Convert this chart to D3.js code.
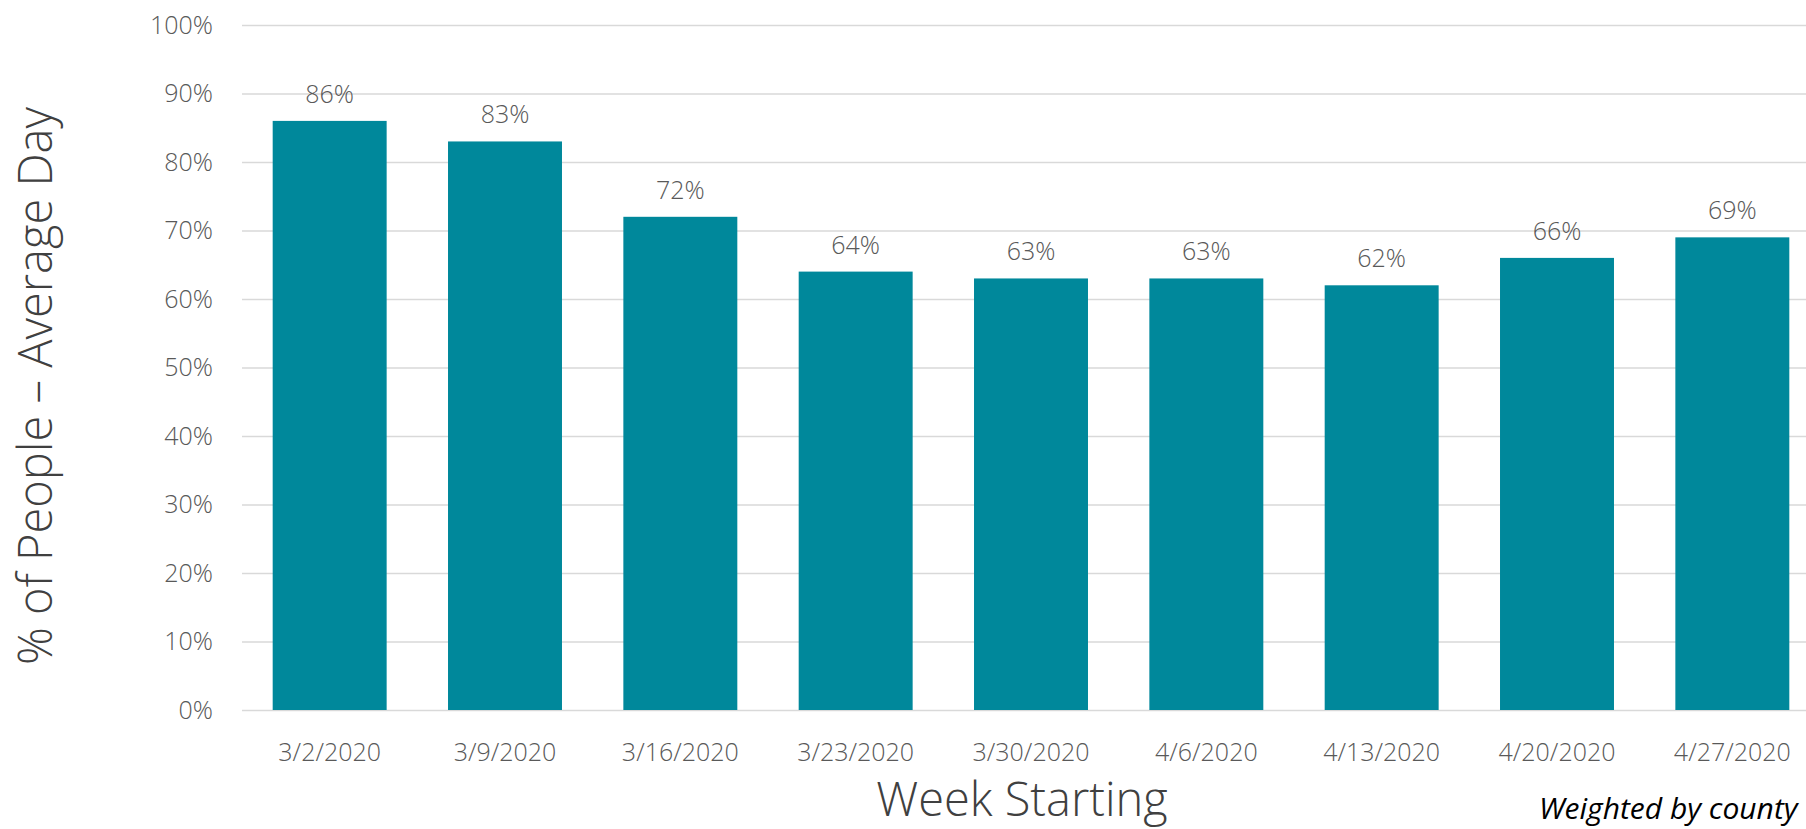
<!DOCTYPE html>
<html>
<head>
<meta charset="utf-8">
<script src="https://cdn.jsdelivr.net/npm/d3@7"></script>
<style>
  html, body { margin: 0; padding: 0; background: #fff; overflow: hidden; }
  text { font-family: "Open Sans", "Noto Sans", sans-serif; }
</style>
</head>
<body>
<script>
// weeks and share of people (average day)
const weeks = ["3/2/2020", "3/9/2020", "3/16/2020", "3/23/2020", "3/30/2020", "4/6/2020", "4/13/2020", "4/20/2020", "4/27/2020"]
const values = [0.86, 0.83, 0.72, 0.64, 0.63, 0.63, 0.62, 0.66, 0.69]
const yTicks = [0, 0.1, 0.2, 0.3, 0.4, 0.5, 0.6, 0.7, 0.8, 0.9, 1.0]

const width = 1806
const height = 829
const margin = {top: 25, right: -14, bottom: 119, left: 242}
const barColor = "#00889b"

const svg = d3.select("body").append("svg")
    .attr("width", width)
    .attr("height", height)

const x = d3.scaleBand()
    .domain(weeks)
    .range([margin.left, width - margin.right])
    .paddingInner(0.35)
    .paddingOuter(0.175)

const y = d3.scaleLinear()
    .domain([0, 1])
    .range([height - margin.bottom, margin.top])

// gridlines + y labels
const yAxis = g => g
    .attr("transform", `translate(${margin.left},0)`)
    .call(d3.axisLeft(y).tickValues(yTicks).tickFormat(d3.format(".0%")).tickSize(-(width - margin.left + 20)).tickPadding(29))
    .call(g => g.select(".domain").remove())
    .call(g => g.selectAll(".tick line").attr("stroke", "#d9d9d9").attr("stroke-width", 1.5))
    .call(g => g.selectAll(".tick text")
        .attr("fill", "#595959")
        .attr("font-size", 25)
        .attr("font-weight", 300)
        .attr("font-family", "'Open Sans', sans-serif"))

svg.append("g").call(yAxis)

svg.append("g")
        .attr("fill", barColor)
    .selectAll("rect")
    .data(values)
    .join("rect")
        .attr("x", (d, i) => x(weeks[i]))
        .attr("y", d => y(d))
        .attr("width", x.bandwidth())
        .attr("height", d => y(0) - y(d))

// value labels above bars
svg.append("g")
        .attr("fill", "#595959")
        .attr("font-size", 25)
        .attr("font-weight", 300)
        .attr("text-anchor", "middle")
    .selectAll("text")
    .data(values)
    .join("text")
        .attr("x", (d, i) => x(weeks[i]) + x.bandwidth() / 2)
        .attr("y", d => y(d) - 18)
        .text(d => d3.format(".0%")(d))

// x axis labels
const xAxis = g => g
    .attr("transform", `translate(0,${height - margin.bottom})`)
    .call(d3.axisBottom(x).tickSize(0).tickPadding(33))
    .call(g => g.select(".domain").remove())
    .call(g => g.selectAll(".tick text")
        .attr("fill", "#595959")
        .attr("font-size", 25)
        .attr("font-weight", 300)
        .attr("font-family", "'Open Sans', sans-serif"))

svg.append("g").call(xAxis)

// axis titles
svg.append("text")
    .attr("x", 1022)
    .attr("y", 816)
    .attr("text-anchor", "middle")
    .attr("fill", "#404040")
    .attr("font-size", 47)
    .attr("font-weight", 300)
    .text("Week Starting")

svg.append("text")
    .attr("transform", "translate(52,386) rotate(-90)")
    .attr("text-anchor", "middle")
    .attr("fill", "#404040")
    .attr("font-size", 47)
    .attr("font-weight", 300)
    .text("% of People – Average Day")

svg.append("text")
    .attr("x", 1539)
    .attr("y", 819)
    .attr("fill", "#000")
    .attr("font-size", 30)
    .attr("font-weight", 400)
    .attr("font-style", "italic")
    .text("Weighted by county")
</script>
</body>
</html>
